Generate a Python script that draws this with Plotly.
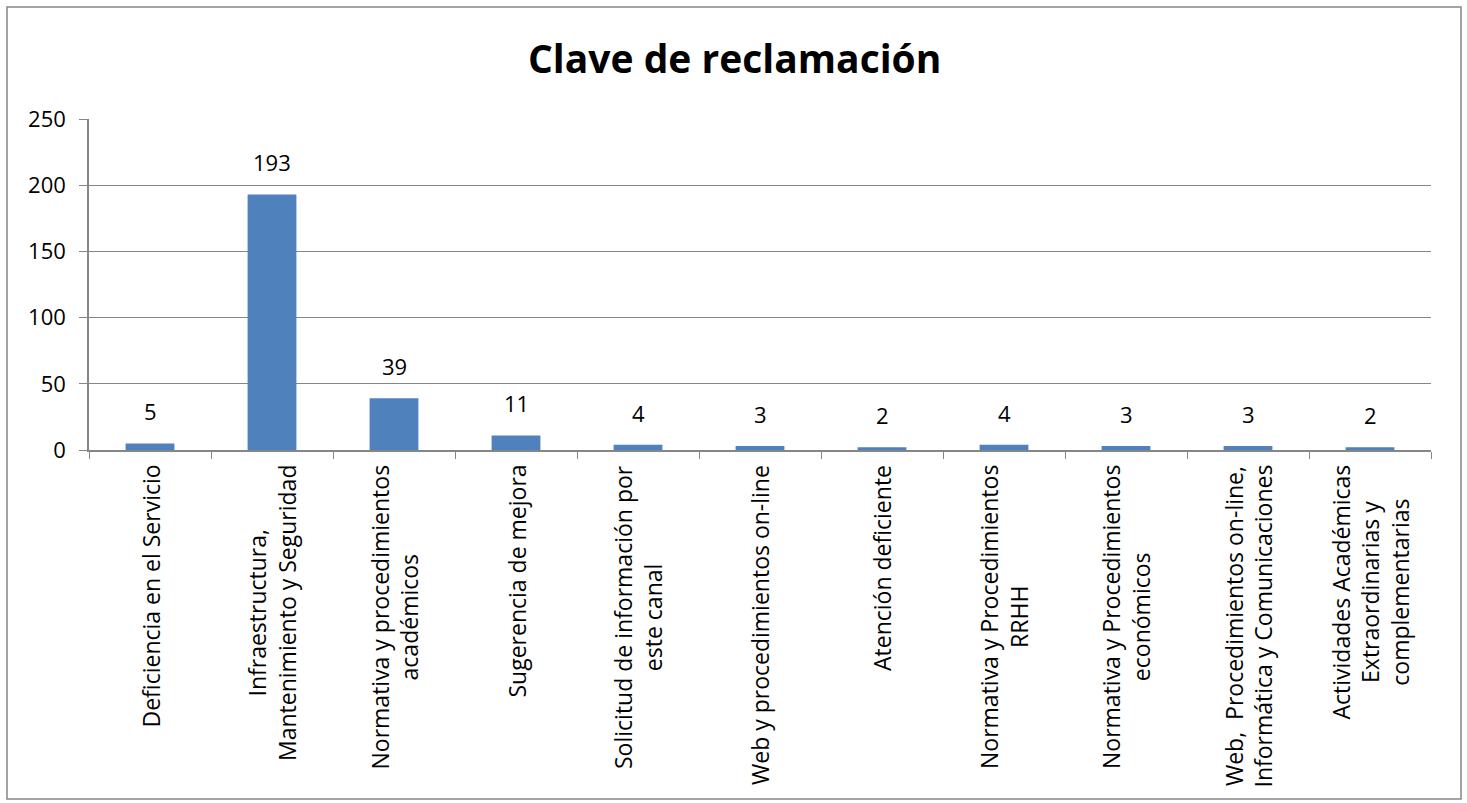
import plotly.graph_objects as go

categories = [
    "Deficiencia en el Servicio",
    "Infraestructura,<br>Mantenimiento y Seguridad",
    "Normativa y procedimientos<br>académicos",
    "Sugerencia de mejora",
    "Solicitud de información por<br>este canal",
    "Web y procedimientos on-line",
    "Atención deficiente",
    "Normativa y Procedimientos<br>RRHH",
    "Normativa y Procedimientos<br>económicos",
    "Web,  Procedimientos on-line,<br>Informática y Comunicaciones",
    "Actividades Académicas<br>Extraordinarias y<br>complementarias",
]
values = [5, 193, 39, 11, 4, 3, 2, 4, 3, 3, 2]
y_ticks = [0, 50, 100, 150, 200, 250]

FONT = "Open Sans, Calibri, sans-serif"
GREY = "#868686"

W, H = 1467, 803
ml, mr, mt, mb = 89, 36, 119, 353
pw, ph = W - ml - mr, H - mt - mb

fig = go.Figure(go.Bar(
    x=list(range(len(categories))), y=values,
    marker=dict(color="#4F81BD", line=dict(width=0)),
    hoverinfo="skip",
))

annotations = []
for i, (c, v) in enumerate(zip(categories, values)):
    annotations.append(dict(
        x=i, y=v, xref="x", yref="y", text=str(v), showarrow=False,
        yanchor="bottom", xanchor="center", yshift=15,
        font=dict(family=FONT, size=22, color="black"),
    ))
    annotations.append(dict(
        x=i, y=0, xref="x", yref="y", text=c, showarrow=False,
        textangle=-90, yanchor="top", xanchor="center", yshift=-13,
        align="center",
        font=dict(family=FONT, size=23, color="black"),
    ))

annotations.append(dict(
    x=(734 - ml) / pw, y=(H - mb - 57) / ph, xref="paper", yref="paper",
    text="<b>Clave de reclamación</b>", showarrow=False,
    xanchor="center", yanchor="middle",
    font=dict(family=FONT, size=39, color="black"),
))

fig.update_layout(
    width=W, height=H,
    margin=dict(l=ml, r=mr, t=mt, b=mb),
    paper_bgcolor="white", plot_bgcolor="white",
    showlegend=False,
    bargap=0.6,
    annotations=annotations,
    shapes=[dict(
        type="rect", xref="paper", yref="paper",
        x0=(7 - ml) / pw, x1=(1461 - ml) / pw,
        y0=-(799 - (H - mb)) / ph, y1=(H - mb - 7) / ph,
        line=dict(color=GREY, width=1.5), fillcolor="rgba(0,0,0,0)", layer="below",
    )],
    xaxis=dict(
        range=[-0.5, len(categories) - 0.5],
        tickmode="array", tickvals=[i - 0.5 for i in range(len(categories) + 1)],
        showticklabels=False, ticks="outside", ticklen=7, tickcolor=GREY,
        showline=True, linecolor=GREY, linewidth=1.5, showgrid=False, zeroline=False,
        fixedrange=True,
    ),
    yaxis=dict(
        range=[0, 250], tickmode="array", tickvals=y_ticks,
        ticks="outside", ticklen=8, tickcolor=GREY,
        showline=True, linecolor=GREY, linewidth=1.5,
        showgrid=True, gridcolor=GREY, gridwidth=1, zeroline=False,
        tickfont=dict(family=FONT, size=22, color="black"),
        ticklabelstandoff=9,
        fixedrange=True,
    ),
)

fig.write_html("out.html", config={"displayModeBar": False},
               post_script="document.body.style.margin='0';")
